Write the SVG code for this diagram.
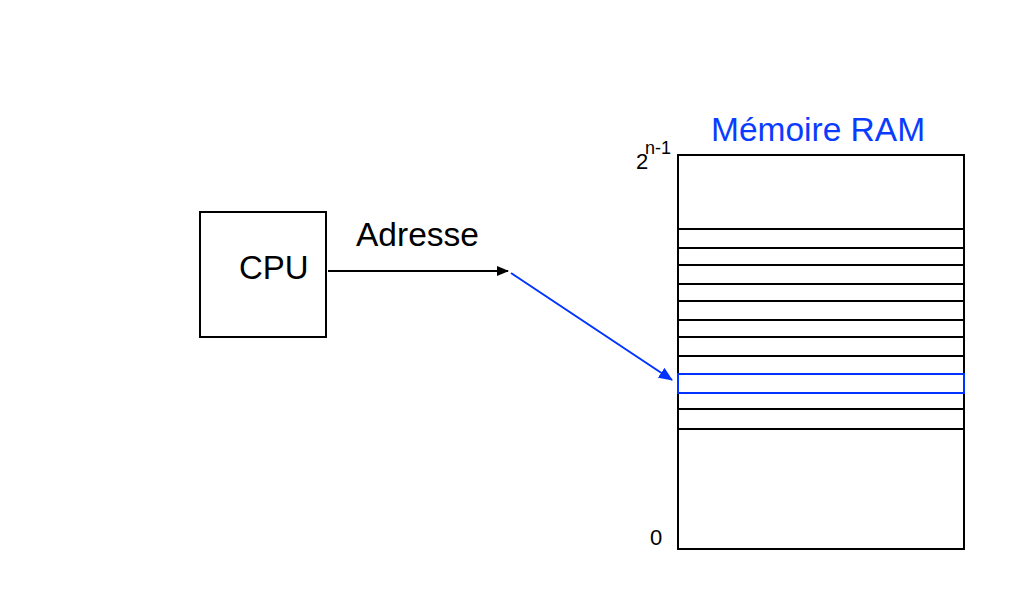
<svg xmlns="http://www.w3.org/2000/svg" width="1024" height="598" viewBox="0 0 1024 598">
<style>
.box{fill:#fff;stroke:#000;stroke-width:2}
.row{stroke:#000;stroke-width:2}
.sel{fill:none;stroke:#0033ff;stroke-width:2}
.t{font-family:"Liberation Sans",Arial,sans-serif;fill:#000}
</style>
<defs>
<marker id="ab" markerWidth="12" markerHeight="10" refX="11" refY="5" orient="auto" markerUnits="userSpaceOnUse"><path d="M0,0 L12,5 L0,10 Z" fill="#000"/></marker>
<marker id="au" markerWidth="14" markerHeight="12" refX="13" refY="6" orient="auto" markerUnits="userSpaceOnUse"><path d="M0,0 L14,6 L0,12 Z" fill="#0033ff"/></marker>
</defs>
<rect width="1024" height="598" fill="#fff"/>
<g id="cpu">
<rect class="box" x="200" y="212" width="126" height="125"/>
<text class="t" x="239" y="279" font-size="33">CPU</text>
</g>
<g id="ram">
<text x="711" y="141" font-size="33.5" font-family="'Liberation Sans',Arial,sans-serif" fill="#0a3cff">Mémoire RAM</text>
<rect class="box" x="678" y="155" width="286" height="394"/>
<g>
<line class="row" x1="678" y1="229" x2="964" y2="229"/>
<line class="row" x1="678" y1="248" x2="964" y2="248"/>
<line class="row" x1="678" y1="265" x2="964" y2="265"/>
<line class="row" x1="678" y1="284" x2="964" y2="284"/>
<line class="row" x1="678" y1="301" x2="964" y2="301"/>
<line class="row" x1="678" y1="320" x2="964" y2="320"/>
<line class="row" x1="678" y1="337" x2="964" y2="337"/>
<line class="row" x1="678" y1="356" x2="964" y2="356"/>
<line class="row" x1="678" y1="409" x2="964" y2="409"/>
<line class="row" x1="678" y1="429" x2="964" y2="429"/>
</g>
<rect class="sel" x="678" y="374" width="286" height="19"/>
<text class="t" x="636" y="169" font-size="22">2</text>
<text class="t" x="645" y="154" font-size="18">n-1</text>
<text class="t" x="650" y="545" font-size="22">0</text>
</g>
<g id="connectors">
<line x1="328" y1="271" x2="508" y2="271" stroke="#000" stroke-width="2" marker-end="url(#ab)"/>
<text class="t" x="356" y="246" font-size="33.5">Adresse</text>
<line x1="511" y1="273" x2="672" y2="380" stroke="#0033ff" stroke-width="2" marker-end="url(#au)"/>
</g>
</svg>
